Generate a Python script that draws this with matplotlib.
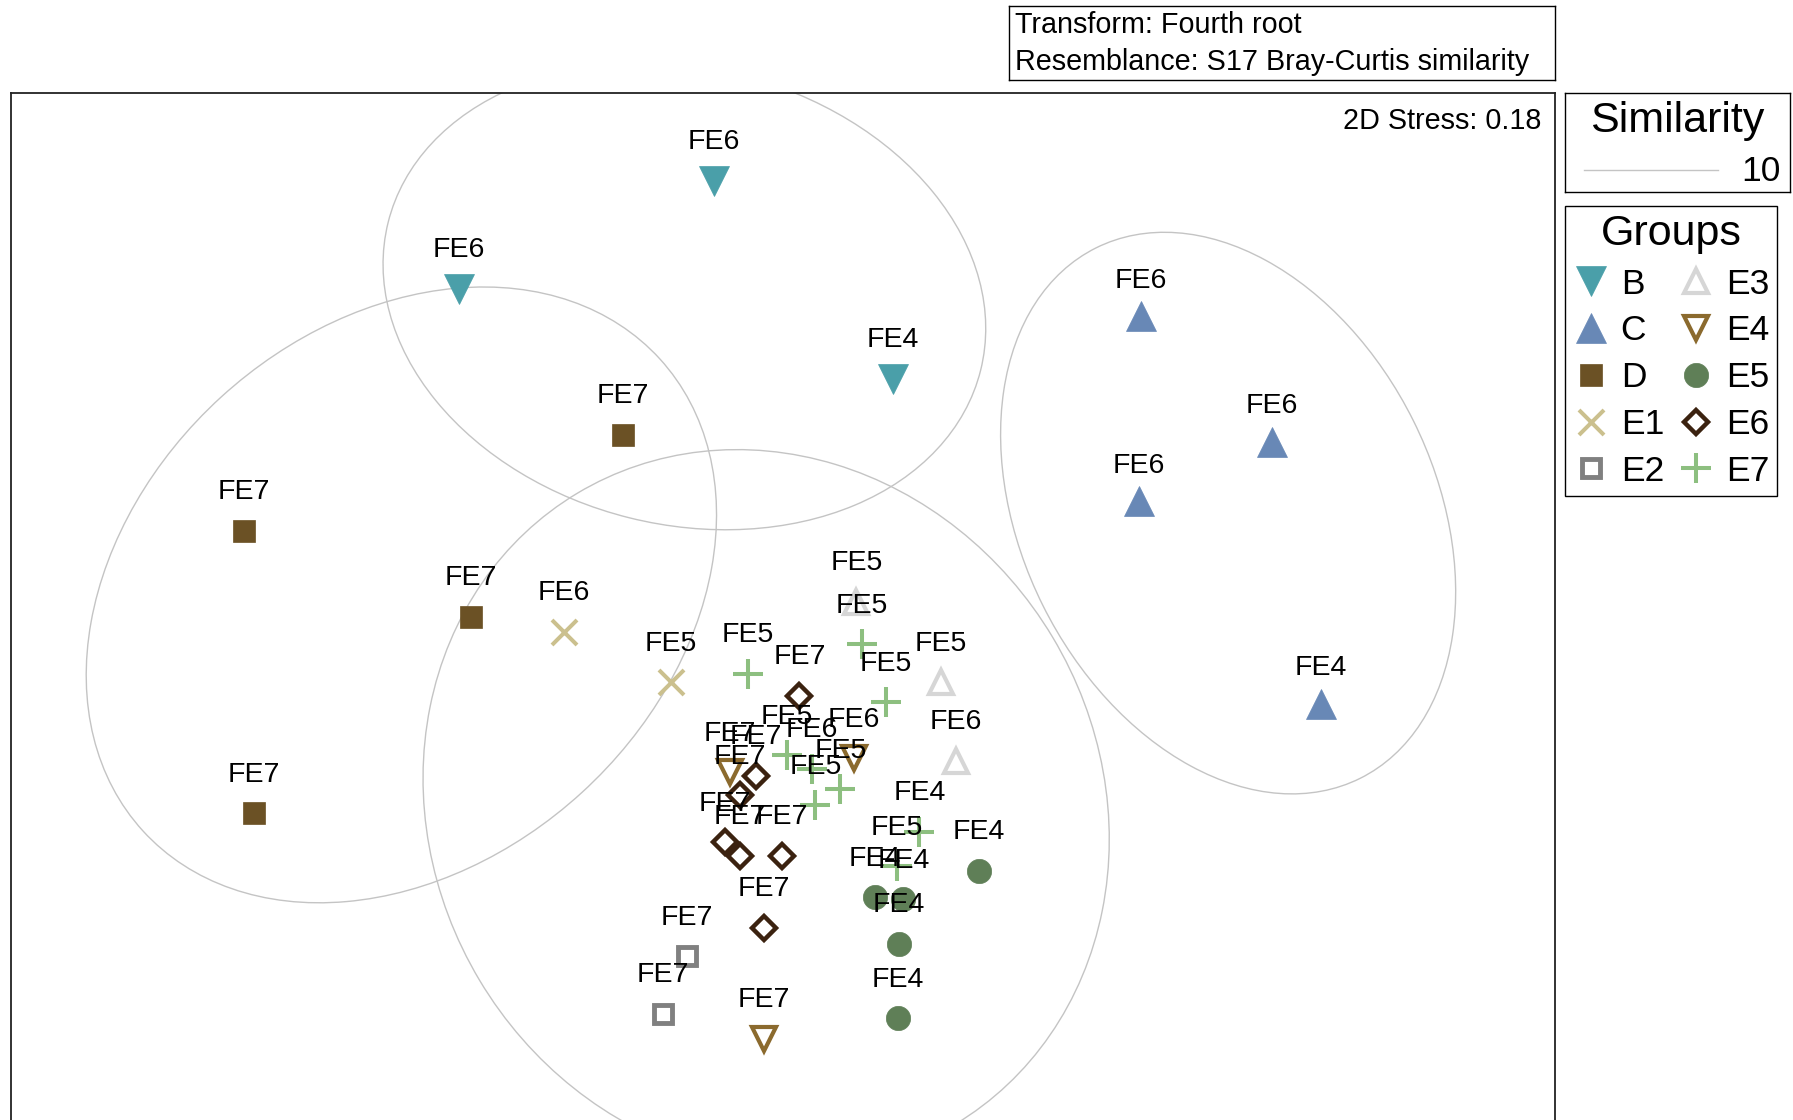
import numpy as np
import matplotlib.pyplot as plt
from matplotlib.patches import Ellipse
from matplotlib.lines import Line2D

plt.rcParams['font.family'] = ['Liberation Sans', 'DejaVu Sans']

# nMDS coordinates (arbitrary units), with sample labels
b_x = [-0.61, -2.84, 0.96]
b_y = [3.42, 2.47, 1.69]
b_lab = ['FE6', 'FE6', 'FE4']

c_x = [3.13, 4.27, 3.11, 4.70]
c_y = [2.24, 1.14, 0.62, -1.15]
c_lab = ['FE6', 'FE6', 'FE6', 'FE4']

d_x = [-1.40, -4.72, -2.73, -4.63]
d_y = [1.20, 0.36, -0.39, -2.11]
d_lab = ['FE7', 'FE7', 'FE7', 'FE7']

e1_x = [-1.92, -0.98]
e1_y = [-0.52, -0.96]
e1_lab = ['FE6', 'FE5']

e2_x = [-0.84, -1.05]
e2_y = [-3.36, -3.86]
e2_lab = ['FE7', 'FE7']

e3_x = [0.64, 1.38, 1.51]
e3_y = [-0.26, -0.96, -1.65]
e3_lab = ['FE5', 'FE5', 'FE6']

e4_x = [0.62, -0.47, -0.17]
e4_y = [-1.63, -1.75, -4.08]
e4_lab = ['FE6', 'FE7', 'FE7']

e5_x = [1.71, 0.80, 1.05, 1.01, 1.00]
e5_y = [-2.61, -2.84, -2.86, -3.25, -3.90]
e5_lab = ['FE4', 'FE4', 'FE4', 'FE4', 'FE4']

e6_x = [0.14, -0.24, -0.38, -0.51, -0.38, -0.01, -0.17]
e6_y = [-1.08, -1.78, -1.95, -2.36, -2.48, -2.48, -3.11]
e6_lab = ['FE7'] * 7

e7_x = [-0.31, 0.69, 0.90, 0.03, 0.25, 0.50, 0.28, 1.19, 0.99]
e7_y = [-0.89, -0.63, -1.14, -1.60, -1.72, -1.90, -2.04, -2.27, -2.57]
e7_lab = ['FE5', 'FE5', 'FE5', 'FE5', 'FE6', 'FE5', 'FE5', 'FE4', 'FE5']

groups = ['B', 'C', 'D', 'E1', 'E2', 'E3', 'E4', 'E5', 'E6', 'E7']
data = {
    'B': (b_x, b_y, b_lab), 'C': (c_x, c_y, c_lab), 'D': (d_x, d_y, d_lab),
    'E1': (e1_x, e1_y, e1_lab), 'E2': (e2_x, e2_y, e2_lab),
    'E3': (e3_x, e3_y, e3_lab), 'E4': (e4_x, e4_y, e4_lab),
    'E5': (e5_x, e5_y, e5_lab), 'E6': (e6_x, e6_y, e6_lab),
    'E7': (e7_x, e7_y, e7_lab),
}

# 10% similarity contours: centre x, centre y, width, height, angle
contours_10 = [
    (-0.865, 2.41, 5.34, 3.99, -14.0),
    (-3.34, -0.20, 6.12, 4.68, 42.4),
    (-0.15, -2.07, 6.43, 5.84, -59.1),
    (3.89, 0.515, 5.18, 3.62, -63.5),
]

style = {
    'B': dict(marker='v', ms=22, mfc='#4a9fa9', mec='#4a9fa9', mew=0.5),
    'C': dict(marker='^', ms=21, mfc='#6888b6', mec='#6888b6', mew=0.5),
    'D': dict(marker='s', ms=16.5, mfc='#6b5125', mec='#6b5125', mew=0.5),
    'E1': dict(marker='x', ms=18, mfc='none', mec='#cbc08e', mew=2.9),
    'E2': dict(marker='s', ms=13, mfc='none', mec='#808080', mew=3.5),
    'E3': dict(marker='^', ms=17.5, mfc='none', mec='#d6d6d6', mew=3),
    'E4': dict(marker='v', ms=17.5, mfc='none', mec='#8b6a2e', mew=3),
    'E5': dict(marker='o', ms=17.5, mfc='#5f7f57', mec='#5f7f57', mew=0.5),
    'E6': dict(marker='D', ms=12, mfc='none', mec='#3b2210', mew=3.2),
    'E7': dict(marker='+', ms=22, mfc='none', mec='#8dbf80', mew=2.9),
}
label_dy = {'B': 28.2, 'C': 25.3}

fig = plt.figure(figsize=(17.93, 11.2), dpi=100)
ax = fig.add_axes([0.00606, -0.02962, 0.8613, 0.94688])
ax.set_xlim(-6.755, 6.75)
ax.set_ylim(-5.08, 4.19)
ax.set_xticks([])
ax.set_yticks([])
for s in ax.spines.values():
    s.set_linewidth(1.3)
    s.set_color('#222222')

for cx, cy, w, h, ang in contours_10:
    ax.add_patch(Ellipse((cx, cy), w, h, angle=ang, fill=False,
                         edgecolor='#c4c4c4', lw=1.0, zorder=1))

for g in groups:
    xs, ys, labs = data[g]
    ax.plot(xs, ys, linestyle='none', zorder=3, **style[g])
    for x, y, lab in zip(xs, ys, labs):
        ax.annotate(lab, (x, y), xytext=(0, label_dy.get(g, 27.6)),
                    textcoords='offset points', ha='center', va='center',
                    fontsize=20.5, zorder=5)

ax.text(0.9911, 0.9732, '2D Stress: 0.18', transform=ax.transAxes,
        ha='right', va='center', fontsize=20.7)

# info box
info = fig.add_axes([0.5625, 0.9285, 0.3048, 0.0664])
info.set_xticks([])
info.set_yticks([])
for s in info.spines.values():
    s.set_linewidth(1.0)
info.text(0.0126, 0.745, 'Transform: Fourth root', ha='left', va='center', fontsize=20.7)
info.text(0.0126, 0.24, 'Resemblance: S17 Bray-Curtis similarity', ha='left', va='center', fontsize=20.7)

# similarity key box
sim = fig.add_axes([0.8731, 0.8284, 0.125, 0.0889])
sim.set_xlim(0, 1)
sim.set_ylim(0, 1)
sim.set_xticks([])
sim.set_yticks([])
for s in sim.spines.values():
    s.set_linewidth(1.0)
sim.text(0.5, 0.72, 'Similarity', ha='center', va='center', fontsize=31)
sim.plot([0.0816, 0.6786], [0.218, 0.218], color='#c4c4c4', lw=1.0)
sim.text(0.959, 0.21, '10', ha='right', va='center', fontsize=25.5)

# groups legend
handles = [Line2D([], [], linestyle='none', **style[g]) for g in groups]
leg = fig.legend(handles, groups, ncol=2, title='Groups', title_fontsize=31,
                 fontsize=25.5, loc='upper left', bbox_to_anchor=(0.8731, 0.8161),
                 borderaxespad=0, fancybox=False, edgecolor='black', framealpha=1,
                 handlelength=1.0, handletextpad=0.34, columnspacing=0.4,
                 labelspacing=0.39, borderpad=0.22)
leg.get_frame().set_linewidth(1.0)

fig.savefig('out.png', dpi=100)
